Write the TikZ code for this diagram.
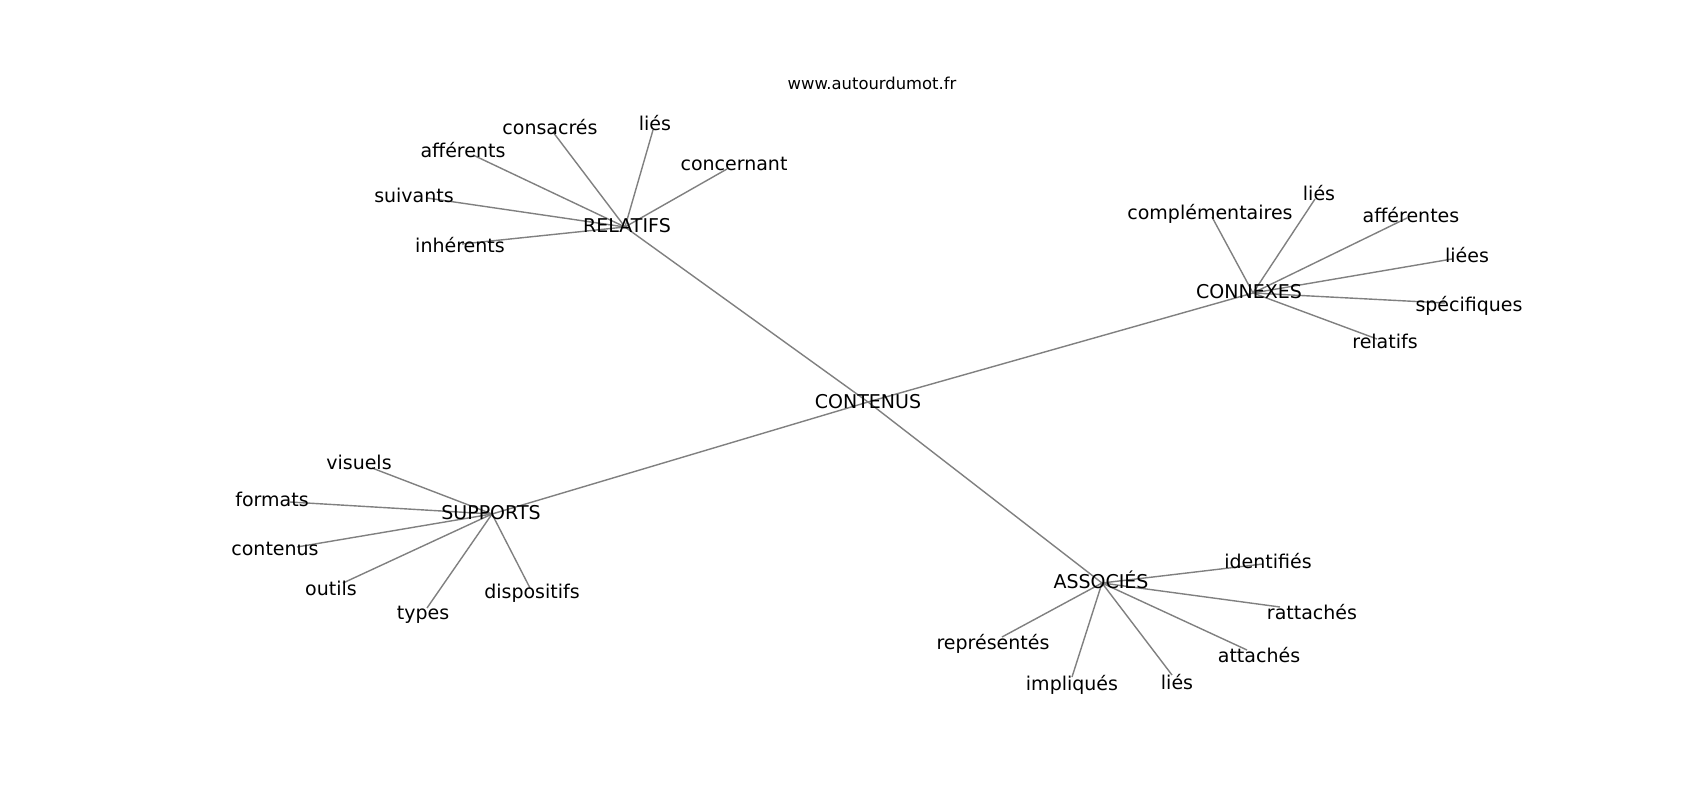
\documentclass[tikz,border=0pt]{standalone}
\usepackage{fontspec}
\setmainfont{DejaVu Sans}
\usetikzlibrary{backgrounds}
\tikzset{
  lbl/.style={inner sep=0pt, font=\fontsize{19}{23}\selectfont, text=black},
  ttl/.style={inner sep=0pt, font=\fontsize{16.4}{20}\selectfont, text=black},
  edge/.style={draw=black!50, line width=1.4pt}
}
\begin{document}
\begin{tikzpicture}[x=1pt, y=-1pt]
\useasboundingbox (0,0) rectangle (1700,800);
\begin{pgfonlayer}{background}
\fill[white] (0,0) rectangle (1700,800);
\end{pgfonlayer}
\node[ttl] (title) at (872,83) {www.autourdumot.fr};
% hubs
\node[lbl] (cont) at (868,402) {CONTENUS};
\node[lbl] (rel) at (627,226) {RELATIFS};
\node[lbl] (con) at (1249,292) {CONNEXES};
\node[lbl] (sup) at (491,513) {SUPPORTS};
\node[lbl] (ass) at (1101,580) {ASSOCIÉS};
\coordinate (contH) at (868,402);
\coordinate (relH) at (625,227);
\coordinate (conH) at (1253,293);
\coordinate (supH) at (492,514);
\coordinate (assH) at (1102,583);
% RELATIFS leaves
\node[lbl] (r1) at (550,127) {consacrés};   \coordinate (r1e) at (553,132);
\node[lbl] (r2) at (655,123) {liés};        \coordinate (r2e) at (653,130);
\node[lbl] (r3) at (463,150) {afférents};   \coordinate (r3e) at (473,155);
\node[lbl] (r4) at (734,164) {concernant};  \coordinate (r4e) at (727,169);
\node[lbl] (r5) at (414,195) {suivants};    \coordinate (r5e) at (427,198);
\node[lbl] (r6) at (460,245) {inhérents};   \coordinate (r6e) at (462,244);
% CONNEXES leaves
\node[lbl] (c1) at (1210,214) {complémentaires}; \coordinate (c1e) at (1212,217);
\node[lbl] (c2) at (1319,193) {liés};            \coordinate (c2e) at (1315,199);
\node[lbl] (c3) at (1411,215) {afférentes};      \coordinate (c3e) at (1407,218);
\node[lbl] (c4) at (1467,255) {liées};           \coordinate (c4e) at (1452,259);
\node[lbl] (c5) at (1469,306) {spécifiques};     \coordinate (c5e) at (1445,303);
\node[lbl] (c6) at (1385,341) {relatifs};        \coordinate (c6e) at (1377,339);
% SUPPORTS leaves
\node[lbl] (s1) at (359,462) {visuels};     \coordinate (s1e) at (372,468);
\node[lbl] (s2) at (272,499) {formats};     \coordinate (s2e) at (290,502);
\node[lbl] (s3) at (275,549) {contenus};    \coordinate (s3e) at (297,547);
\node[lbl] (s4) at (331,588) {outils};      \coordinate (s4e) at (343,583);
\node[lbl] (s5) at (423,615) {types};       \coordinate (s5e) at (427,608);
\node[lbl] (s6) at (532,593) {dispositifs}; \coordinate (s6e) at (530,588);
% ASSOCIES leaves
\node[lbl] (a1) at (1268,561) {identifiés};  \coordinate (a1e) at (1263,564);
\node[lbl] (a2) at (1312,612) {rattachés};   \coordinate (a2e) at (1280,607);
\node[lbl] (a3) at (1259,655) {attachés};    \coordinate (a3e) at (1247,650);
\node[lbl] (a4) at (1177,682) {liés};        \coordinate (a4e) at (1172,675);
\node[lbl] (a5) at (1072,685) {impliqués};   \coordinate (a5e) at (1072,677);
\node[lbl] (a6) at (993,644) {représentés};  \coordinate (a6e) at (1002,637);
\begin{pgfonlayer}{background}
\path[edge] (contH) -- (relH);
\path[edge] (contH) -- (conH);
\path[edge] (contH) -- (supH);
\path[edge] (contH) -- (assH);
\foreach \i in {1,...,6} {
  \path[edge] (relH) -- (r\i e);
  \path[edge] (conH) -- (c\i e);
  \path[edge] (supH) -- (s\i e);
  \path[edge] (assH) -- (a\i e);
}
\end{pgfonlayer}
\end{tikzpicture}
\end{document}
